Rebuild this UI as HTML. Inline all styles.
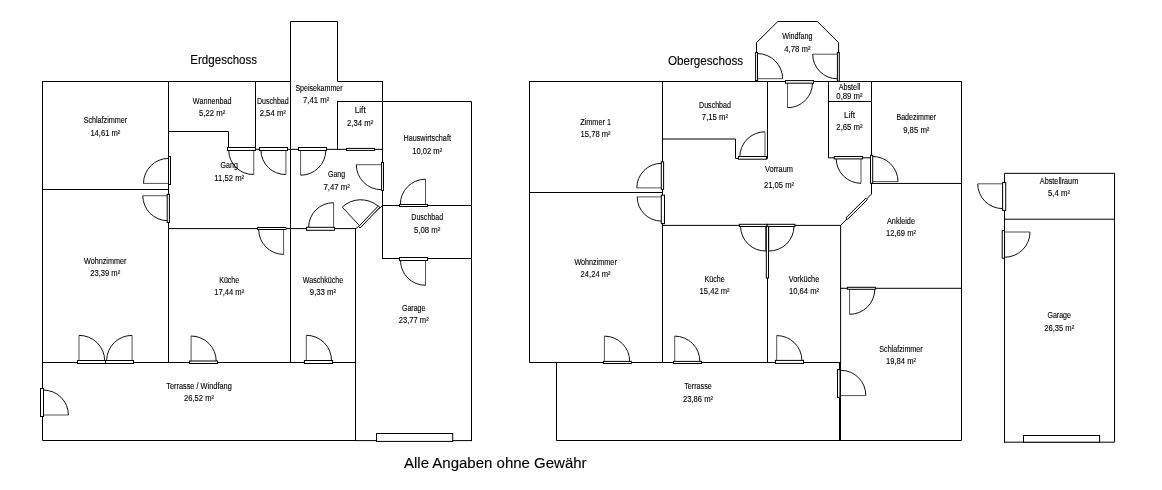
<!DOCTYPE html>
<html lang="de">
<head>
<meta charset="utf-8">
<title>Grundriss</title>
<style>
html,body{margin:0;padding:0;background:#fff;}
body{width:1162px;height:490px;overflow:hidden;font-family:"Liberation Sans",sans-serif;}
svg{display:block;will-change:transform;}
.w{fill:none;stroke:#000;stroke-width:1;stroke-linecap:square;stroke-linejoin:miter;}
.w2{fill:none;stroke:#000;stroke-width:2;}
.d{fill:none;stroke:#111;stroke-width:1;}
.l{fill:none;stroke:#555;stroke-width:1;}
.r rect,.r polygon{fill:#fff;stroke:#000;stroke-width:1;}
text{font-family:"Liberation Sans",sans-serif;fill:#000;stroke:#000;stroke-width:0.12;text-anchor:middle;}
</style>
</head>
<body>
<svg width="1162" height="490" viewBox="0 0 1162 490">
<rect width="1162" height="490" fill="#fff"/>
<path class="w" d="M42.5 81.5H290.5V21.5H337.5V81.5H382.5 M42.5 81.5V440.5H355.5 M355.5 440.6H471.5 M471.5 440.5V101.5H337.5 M337.5 101.5V149.5 M382.5 81.5V258.5 M290.5 81.5V362.5 M168.5 81.5V362.5 M42.5 189.5H168.5 M255.5 81.5V149.5 M168.5 131.5H228.5V149.5 M228.5 149.35H382.5 M168.5 228.6H356L382.5 205.6 M355.5 228.6V440.5 M382.5 205.5H471.5 M382.5 258.5H471.5 M42.5 362.5H355.5 M529.5 81.5H961.5V440.5H556.5V362.5 M529.5 81.5V362.5H840.5 M756.5 81.5V42.6L777.8 21.5H817.3L838.6 42.6V81.5 M662.5 81.5V362.5 M529.5 192.5H662.5 M767.5 81.5V158.4H735.5V139H662.5 M828.5 81.5V157.8H871.5 M828.5 101.5H871.5 M871.5 81.5V194L840.6 225.4V362.5 M662.5 225.4H840.5 M871.5 183.45H961.5 M840.5 288.3H961.5 M767.5 225.4V362.5 M1004.55 442.2V173.35H1114.55V442.2H1004.55 M1004.5 219.2H1114.5"/>
<path class="w2" d="M840 362V441"/>
<path class="l" d="M168.5 183.4L143.5 183.4 M167.5 195.7L142.8 195.7 M253.75 150.5L253.75 174.5 M285.9 150.5L285.9 174.5 M300.6 150.5L300.6 175.2 M381.5 164.7L356.3 164.7 M425.5 204.5L425.5 179.2 M425.5 260.5L425.5 285.3 M283.6 229.5L283.6 254.4 M333.6 227.3L333.6 202.7 M79 360.5L79 335.4 M132.1 360.5L132.1 335.4 M191.1 361.3L191.1 336 M306.3 360.5L306.3 335.3 M43.5 415L68.4 415 M757.5 78.7L782.6 78.7 M837.3 54.2L812.7 54.2 M787.5 83L787.5 107.7 M765 157L765 131.8 M661.4 187.9L636.8 187.9 M661.4 196.9L637.2 196.9 M861 158.5L861 183.3 M872.7 181.6L898 181.6 M849.6 289.3L849.6 314.3 M604.4 361.4L604.4 336.1 M674.7 361.4L674.7 336.1 M776.7 360.4L776.7 335.6 M841 395.6L865.8 395.6 M1002.6 183.8L977.7 183.8 M1004.8 232L1030 232"/>
<path class="d" d="M143.5 183.4A25 25 0 0 1 168.5 158.4 M142.8 195.7A25 25 0 0 0 167.5 220.7 M253.75 174.5A24.5 24.5 0 0 1 228.7 150.5 M285.9 174.5A24.5 24.5 0 0 1 260.9 150.5 M300.6 175.2A25 25 0 0 0 325.8 150.5 M356.3 164.7A25 25 0 0 0 381.5 189.7 M425.5 179.2A25.2 25.2 0 0 0 400.3 204.5 M425.5 285.3A24.9 24.9 0 0 1 400.5 260.5 M283.6 254.4A24.9 24.9 0 0 1 258.7 229.5 M333.6 202.7A24.8 24.8 0 0 0 308.6 227.3 M359.2 225.3L342.2 207.1A27 27 0 0 1 378.2 206.2 M79 335.4A25.4 25.4 0 0 1 104.7 360.5 M132.1 335.4A25.4 25.4 0 0 0 106.6 360.5 M191.1 336A25.2 25.2 0 0 1 216.2 361.3 M306.3 335.3A25.2 25.2 0 0 1 331.5 360.5 M68.4 415A24.9 24.9 0 0 0 43.5 390.1 M782.6 78.7A25.1 25.1 0 0 0 757.5 53.6 M812.7 54.2A24.6 24.6 0 0 0 837.3 78.8 M787.5 107.7A24.8 24.8 0 0 0 812.5 83 M765 131.8A25.2 25.2 0 0 0 739.8 157 M636.8 187.9A24.6 24.6 0 0 1 661.4 163.3 M637.2 196.9A24.2 24.2 0 0 0 661.4 221.1 M861 183.3A24.8 24.8 0 0 1 836.2 158.5 M898 181.6A25.2 25.2 0 0 0 872.7 156.5 M849.6 314.3A25.1 25.1 0 0 0 874.8 289.3 M766.1 226.4V251A24.8 24.8 0 0 1 740.6 226.4 M766.1 226.4V251 M768.6 226.4V251A24.8 24.8 0 0 0 794 226.4 M768.6 226.4V251 M604.4 336.1A25.3 25.3 0 0 1 629.7 361.4 M674.7 336.1A25.3 25.3 0 0 1 699.9 361.4 M776.7 335.6A25 25 0 0 1 801.9 360.4 M865.8 395.6A25 25 0 0 0 841 370.3 M977.7 183.8A24.9 24.9 0 0 0 1002.6 208.6 M1030 232A25.2 25.2 0 0 1 1004.8 257.2"/>
<g class="r">
<rect x="168.5" y="156.5" width="2" height="28"/>
<rect x="167.2" y="194.3" width="2.2" height="28.2"/>
<rect x="227.5" y="147.5" width="28" height="3"/>
<rect x="259.5" y="147.5" width="28" height="3"/>
<rect x="298.5" y="147.5" width="28" height="3"/>
<rect x="346.5" y="148.4" width="28" height="2"/>
<rect x="381.6" y="162.5" width="1.9" height="28"/>
<rect x="399.5" y="204.5" width="28" height="2"/>
<rect x="399.5" y="257.5" width="28.1" height="3"/>
<rect x="257.6" y="227.5" width="28.2" height="2"/>
<rect x="306.5" y="227.3" width="28" height="3"/>
<polygon points="358.6,226.6 378.4,205.9 379.9,207.3 360.1,228"/>
<rect x="77.5" y="360.5" width="28" height="3"/>
<rect x="105.5" y="360.5" width="28" height="3"/>
<rect x="189.5" y="361" width="28" height="2.5"/>
<rect x="304.4" y="360.5" width="28.2" height="3"/>
<rect x="40.5" y="388.5" width="3" height="28"/>
<rect x="376.5" y="433.5" width="76.2" height="7.9"/>
<rect x="755.6" y="52.5" width="1.9" height="28.6"/>
<rect x="837.4" y="52.5" width="1.9" height="28.6"/>
<rect x="785.5" y="80.6" width="28" height="2.6"/>
<rect x="738.4" y="156.5" width="28.2" height="2.7"/>
<rect x="661.3" y="161.8" width="2.3" height="27.5"/>
<rect x="661.3" y="195.2" width="3.2" height="28.4"/>
<rect x="834.3" y="156.5" width="28.3" height="2.4"/>
<rect x="870.5" y="155.3" width="2.2" height="28"/>
<polygon points="846,217.8 865.8,198.2 867.3,199.7 847.5,219.3"/>
<rect x="847.4" y="287.3" width="28" height="2"/>
<rect x="739.3" y="224.3" width="27.8" height="2.2"/>
<rect x="767.1" y="224.3" width="27.8" height="2.2"/>
<rect x="766.3" y="226.4" width="2.2" height="51.6"/>
<rect x="603.4" y="361.4" width="28" height="2.1"/>
<rect x="673.5" y="361.4" width="28" height="2.1"/>
<rect x="775.4" y="360.4" width="28.1" height="3"/>
<rect x="837.5" y="369.6" width="2.5" height="27.8"/>
<rect x="1002.6" y="182.6" width="3.1" height="27.8"/>
<rect x="1002.2" y="230.6" width="2.3" height="27.6"/>
<rect x="1023.5" y="435.5" width="76.1" height="6.7"/>
</g>
<g>
<text x="105.4" y="123.1" font-size="8.4" textLength="43.5" lengthAdjust="spacingAndGlyphs">Schlafzimmer</text>
<text x="105.4" y="135.6" font-size="8.4" textLength="30.0" lengthAdjust="spacingAndGlyphs">14,61 m²</text>
<text x="212.2" y="104.0" font-size="8.4" textLength="38.7" lengthAdjust="spacingAndGlyphs">Wannenbad</text>
<text x="212.2" y="115.7" font-size="8.4" textLength="26.3" lengthAdjust="spacingAndGlyphs">5,22 m²</text>
<text x="272.8" y="104.0" font-size="8.4" textLength="31.8" lengthAdjust="spacingAndGlyphs">Duschbad</text>
<text x="272.8" y="115.7" font-size="8.4" textLength="26.3" lengthAdjust="spacingAndGlyphs">2,54 m²</text>
<text x="319" y="91.1" font-size="8.4" textLength="47.2" lengthAdjust="spacingAndGlyphs">Speisekammer</text>
<text x="316.2" y="103.3" font-size="8.4" textLength="26.3" lengthAdjust="spacingAndGlyphs">7,41 m²</text>
<text x="360.2" y="113.3" font-size="8.4" textLength="11" lengthAdjust="spacingAndGlyphs">Lift</text>
<text x="360.2" y="125.9" font-size="8.4" textLength="26.3" lengthAdjust="spacingAndGlyphs">2,34 m²</text>
<text x="427.2" y="141.3" font-size="8.4" textLength="47.4" lengthAdjust="spacingAndGlyphs">Hauswirtschaft</text>
<text x="427.2" y="153.8" font-size="8.4" textLength="30.0" lengthAdjust="spacingAndGlyphs">10,02 m²</text>
<text x="229.2" y="168.0" font-size="8.4" textLength="17.2" lengthAdjust="spacingAndGlyphs">Gang</text>
<text x="229.2" y="180.9" font-size="8.4" textLength="30.0" lengthAdjust="spacingAndGlyphs">11,52 m²</text>
<text x="336.6" y="177.2" font-size="8.4" textLength="17.2" lengthAdjust="spacingAndGlyphs">Gang</text>
<text x="336.6" y="189.8" font-size="8.4" textLength="26.3" lengthAdjust="spacingAndGlyphs">7,47 m²</text>
<text x="427.2" y="220.0" font-size="8.4" textLength="31.8" lengthAdjust="spacingAndGlyphs">Duschbad</text>
<text x="427.2" y="232.6" font-size="8.4" textLength="26.3" lengthAdjust="spacingAndGlyphs">5,08 m²</text>
<text x="105.2" y="263.6" font-size="8.4" textLength="42.4" lengthAdjust="spacingAndGlyphs">Wohnzimmer</text>
<text x="105.2" y="276.0" font-size="8.4" textLength="30.0" lengthAdjust="spacingAndGlyphs">23,39 m²</text>
<text x="229.2" y="282.6" font-size="8.4" textLength="20" lengthAdjust="spacingAndGlyphs">Küche</text>
<text x="229.2" y="295.2" font-size="8.4" textLength="30.0" lengthAdjust="spacingAndGlyphs">17,44 m²</text>
<text x="323" y="282.6" font-size="8.4" textLength="40.4" lengthAdjust="spacingAndGlyphs">Waschküche</text>
<text x="323" y="295.2" font-size="8.4" textLength="26.3" lengthAdjust="spacingAndGlyphs">9,33 m²</text>
<text x="413.7" y="310.6" font-size="8.4" textLength="23.5" lengthAdjust="spacingAndGlyphs">Garage</text>
<text x="413.7" y="323.2" font-size="8.4" textLength="30.0" lengthAdjust="spacingAndGlyphs">23,77 m²</text>
<text x="199" y="389.1" font-size="8.4" textLength="65.6" lengthAdjust="spacingAndGlyphs">Terrasse / Windfang</text>
<text x="199" y="401.4" font-size="8.4" textLength="30.0" lengthAdjust="spacingAndGlyphs">26,52 m²</text>
<text x="595.6" y="124.9" font-size="8.4" textLength="30.9" lengthAdjust="spacingAndGlyphs">Zimmer 1</text>
<text x="595.6" y="137.1" font-size="8.4" textLength="30.0" lengthAdjust="spacingAndGlyphs">15,78 m²</text>
<text x="715" y="107.9" font-size="8.4" textLength="31.8" lengthAdjust="spacingAndGlyphs">Duschbad</text>
<text x="715" y="119.9" font-size="8.4" textLength="26.3" lengthAdjust="spacingAndGlyphs">7,15 m²</text>
<text x="797.4" y="39.4" font-size="8.4" textLength="30.5" lengthAdjust="spacingAndGlyphs">Windfang</text>
<text x="797.4" y="52.0" font-size="8.4" textLength="26.3" lengthAdjust="spacingAndGlyphs">4,78 m²</text>
<text x="849.5" y="90.0" font-size="8.4" textLength="21.7" lengthAdjust="spacingAndGlyphs">Abstell</text>
<text x="849.5" y="98.6" font-size="8.4" textLength="26.3" lengthAdjust="spacingAndGlyphs">0,89 m²</text>
<text x="849.5" y="118.3" font-size="8.4" textLength="11" lengthAdjust="spacingAndGlyphs">Lift</text>
<text x="849.5" y="130.3" font-size="8.4" textLength="26.3" lengthAdjust="spacingAndGlyphs">2,65 m²</text>
<text x="916.3" y="120.4" font-size="8.4" textLength="39.7" lengthAdjust="spacingAndGlyphs">Badezimmer</text>
<text x="916.3" y="132.8" font-size="8.4" textLength="26.3" lengthAdjust="spacingAndGlyphs">9,85 m²</text>
<text x="779" y="172.1" font-size="8.4" textLength="28" lengthAdjust="spacingAndGlyphs">Vorraum</text>
<text x="779" y="187.8" font-size="8.4" textLength="30.0" lengthAdjust="spacingAndGlyphs">21,05 m²</text>
<text x="901" y="224.1" font-size="8.4" textLength="28" lengthAdjust="spacingAndGlyphs">Ankleide</text>
<text x="901" y="236.1" font-size="8.4" textLength="30.0" lengthAdjust="spacingAndGlyphs">12,69 m²</text>
<text x="595.6" y="265.0" font-size="8.4" textLength="42.4" lengthAdjust="spacingAndGlyphs">Wohnzimmer</text>
<text x="595.6" y="276.9" font-size="8.4" textLength="30.0" lengthAdjust="spacingAndGlyphs">24,24 m²</text>
<text x="714.6" y="282.0" font-size="8.4" textLength="20" lengthAdjust="spacingAndGlyphs">Küche</text>
<text x="714.6" y="293.9" font-size="8.4" textLength="30.0" lengthAdjust="spacingAndGlyphs">15,42 m²</text>
<text x="804" y="281.9" font-size="8.4" textLength="30.5" lengthAdjust="spacingAndGlyphs">Vorküche</text>
<text x="804" y="294.0" font-size="8.4" textLength="30.0" lengthAdjust="spacingAndGlyphs">10,64 m²</text>
<text x="901" y="352.4" font-size="8.4" textLength="43.5" lengthAdjust="spacingAndGlyphs">Schlafzimmer</text>
<text x="901" y="364.1" font-size="8.4" textLength="30.0" lengthAdjust="spacingAndGlyphs">19,84 m²</text>
<text x="698" y="388.9" font-size="8.4" textLength="27.5" lengthAdjust="spacingAndGlyphs">Terrasse</text>
<text x="698" y="401.5" font-size="8.4" textLength="30.0" lengthAdjust="spacingAndGlyphs">23,86 m²</text>
<text x="1059" y="183.5" font-size="8.4" textLength="38.4" lengthAdjust="spacingAndGlyphs">Abstellraum</text>
<text x="1059" y="196.1" font-size="8.4" textLength="22.1" lengthAdjust="spacingAndGlyphs">5,4 m²</text>
<text x="1059.2" y="318.4" font-size="8.4" textLength="23.5" lengthAdjust="spacingAndGlyphs">Garage</text>
<text x="1059.2" y="330.5" font-size="8.4" textLength="30.0" lengthAdjust="spacingAndGlyphs">26,35 m²</text>
<text x="223.7" y="63.9" font-size="12.6" textLength="66.8" lengthAdjust="spacingAndGlyphs">Erdgeschoss</text>
<text x="705.5" y="64.7" font-size="12.6" textLength="75.2" lengthAdjust="spacingAndGlyphs">Obergeschoss</text>
<text x="495.3" y="467.8" font-size="14.7" textLength="182.6" lengthAdjust="spacingAndGlyphs">Alle Angaben ohne Gewähr</text>
</g>
</svg>
</body>
</html>
